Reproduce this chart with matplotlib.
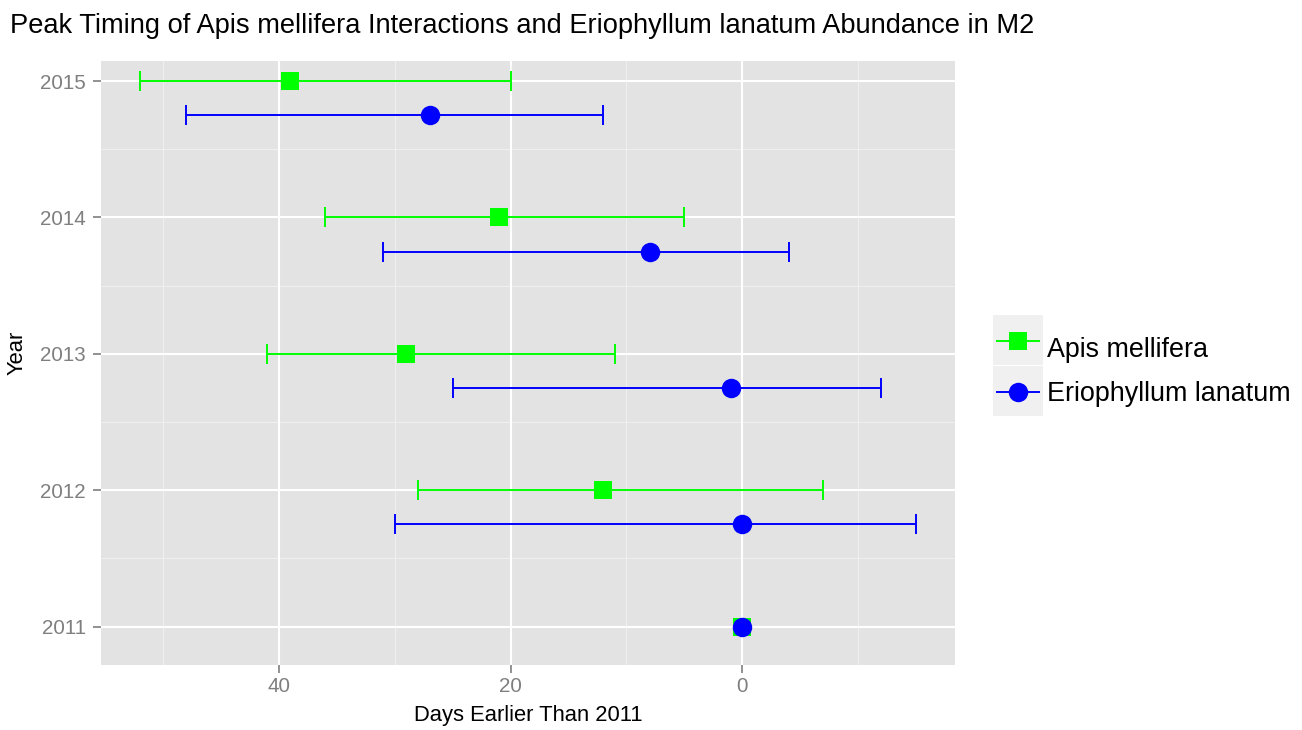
import numpy as np
import matplotlib
matplotlib.use("Agg")
import matplotlib.pyplot as plt
from matplotlib.patches import Rectangle
from matplotlib.lines import Line2D

plt.rcParams['font.family'] = ['Liberation Sans', 'DejaVu Sans']

# Peak timing (days earlier than 2011) with interval ends
years = np.array([2015, 2014, 2013, 2012, 2011])
apis_peak = np.array([39, 21, 29, 12, 0], dtype=float)
apis_early = np.array([52, 36, 41, 28, np.nan])
apis_late = np.array([20, 5, 11, -7, np.nan])
erio_peak = np.array([27, 8, 1, 0, 0], dtype=float)
erio_early = np.array([48, 31, 25, 30, np.nan])
erio_late = np.array([12, -4, -12, -15, np.nan])

series_names = ["Apis mellifera", "Eriophyllum lanatum"]
x_ticks = [40, 20, 0]
x_minor = [50, 30, 10, -10]

GREEN = "#00FF00"
BLUE = "#0000FF"
PANEL = "#E3E3E3"

W, H = 1302, 730
fig = plt.figure(figsize=(W / 100, H / 100), dpi=100)
ax = fig.add_axes([101 / W, 1 - 665 / H, (955 - 101) / W, (665 - 61) / H])
ax.set_facecolor(PANEL)
for s in ax.spines.values():
    s.set_visible(False)

# grid
for v in x_minor:
    ax.axvline(v, color="#F2F2F2", lw=0.6, zorder=0.5)
for v in x_ticks:
    ax.axvline(v, color="white", lw=1.5, zorder=0.6)
for y in years[:-1]:
    ax.axhline(y - 0.5, color="#F2F2F2", lw=0.6, zorder=0.5)
for y in years:
    ax.axhline(y, color="white", lw=1.5, zorder=0.6)

# the second series sits a quarter year below when it has an interval
dodge = np.where(np.isnan(erio_early), 0.0, 0.25)
erio_y = years - dodge

has_a = ~np.isnan(apis_early)
ax.errorbar(apis_peak[has_a], years[has_a],
            xerr=[apis_peak[has_a] - apis_late[has_a], apis_early[has_a] - apis_peak[has_a]],
            fmt="none", ecolor=GREEN, elinewidth=1.4, capsize=7.2, capthick=1.4, zorder=2)
has_e = ~np.isnan(erio_early)
ax.errorbar(erio_peak[has_e], erio_y[has_e],
            xerr=[erio_peak[has_e] - erio_late[has_e], erio_early[has_e] - erio_peak[has_e]],
            fmt="none", ecolor=BLUE, elinewidth=1.4, capsize=7.2, capthick=1.4, zorder=2)
ax.plot(apis_peak, years, "s", color=GREEN, ms=13, mew=0, zorder=3)
ax.plot(erio_peak, erio_y, "o", color=BLUE, ms=14, mew=0, zorder=4)

ax.set_xlim(55.35, -18.35)
ax.set_ylim(2010.719, 2015.147)
ax.set_xticks(x_ticks)
ax.set_xticklabels([str(v) for v in x_ticks])
ax.set_yticks(years)
ax.set_yticklabels([str(y) for y in years])
ax.tick_params(axis="both", colors="#7F7F7F", labelsize=14.8, length=5.5, width=1.2)
ax.tick_params(axis="x", pad=3.5)
ax.tick_params(axis="y", pad=5.5)


def px(x, y):
    return x / W, 1 - y / H


# titles
tx, ty = px(10, 33)
fig.text(tx, ty, "Peak Timing of Apis mellifera Interactions and Eriophyllum lanatum Abundance in M2",
         fontsize=19.6, color="black", ha="left", va="baseline")
lx, ly = px(528, 716)
fig.text(lx, ly, "Days Earlier Than 2011", fontsize=15.8, color="black", ha="center", va="center")
yx, yy = px(17.5, 353)
fig.text(yx, yy, "Year", fontsize=15.8, color="black", ha="center", va="center", rotation=90)

# legend drawn in figure pixels
colors = [GREEN, BLUE]
markers = ["s", "o"]
msizes = [13, 14]
baselines = [357, 401]
for i, name in enumerate(series_names):
    top = 315 + i * 51
    x0, y0 = px(993, top + 50)
    fig.add_artist(Rectangle((x0, y0), 50 / W, 50 / H, transform=fig.transFigure,
                             facecolor="#F0F0F0", edgecolor="none"))
    cy = top + 26
    xa, ya = px(997, cy)
    xb, _ = px(1039, cy)
    fig.add_artist(Line2D([xa, xb], [ya, ya], transform=fig.transFigure, color=colors[i], lw=1.4))
    xm, _ = px(1018, cy)
    fig.add_artist(Line2D([xm], [ya], transform=fig.transFigure, marker=markers[i],
                          color=colors[i], ms=msizes[i], mew=0, lw=0))
    xt, yt = px(1047, baselines[i])
    fig.text(xt, yt, name, fontsize=19.4, color="black", ha="left", va="baseline")

fig.savefig("out.png", dpi=100)
